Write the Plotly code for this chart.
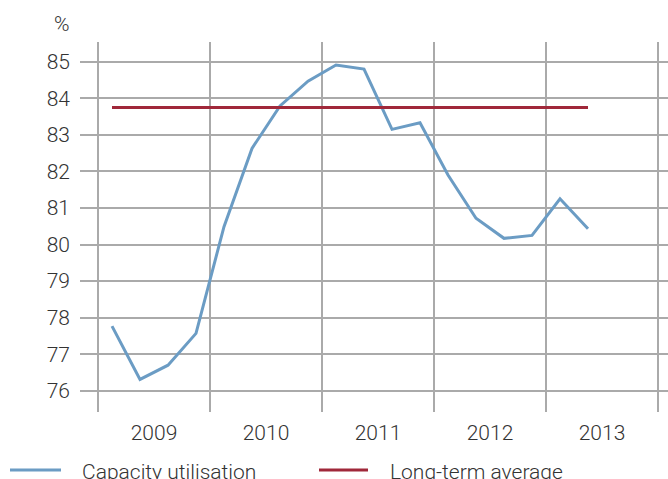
import plotly.graph_objects as go

quarters = ["2009Q1", "2009Q2", "2009Q3", "2009Q4",
            "2010Q1", "2010Q2", "2010Q3", "2010Q4",
            "2011Q1", "2011Q2", "2011Q3", "2011Q4",
            "2012Q1", "2012Q2", "2012Q3", "2012Q4",
            "2013Q1", "2013Q2"]
capacity_utilisation = [77.77, 76.31, 76.70, 77.57,
                        80.49, 82.63, 83.79, 84.47,
                        84.91, 84.80, 83.15, 83.33,
                        81.90, 80.72, 80.17, 80.25,
                        81.25, 80.43]
long_term_average = [83.75] * len(quarters)
years = ["2009", "2010", "2011", "2012", "2013"]
y_ticks = [76, 77, 78, 79, 80, 81, 82, 83, 84, 85]
series_names = ["Capacity utilisation", "Long-term average"]
series_colors = ["#6b9cc4", "#a0283a"]

x = list(range(len(quarters)))
year_centers = [4 * i + 1.5 for i in range(len(years))]
year_bounds = [4 * i - 0.5 for i in range(len(years) + 1)]

FONT = "Roboto"
FS = 21
FW = 300
TXT = "#333333"
GRID = "#aaaaaa"

fig = go.Figure()
for name, vals, col in zip(series_names,
                           [capacity_utilisation, long_term_average],
                           series_colors):
    fig.add_trace(go.Scatter(x=x, y=vals, mode="lines", name=name,
                             line=dict(color=col, width=3),
                             showlegend=False))

# legend drawn as paper-referenced samples + text (plot area: x 80..668, y 42..412)
PW, PH, L, B = 588.0, 370.0, 80.0, 412.0
def px(v):
    return (v - L) / PW
def py(v):
    return (B - v) / PH

legend_items = [(10, 61, 81), (319, 368, 389)]  # sample start, sample end, text start (px)
shapes = []
annotations = []
for (s0, s1, t0), name, col in zip(legend_items, series_names, series_colors):
    shapes.append(dict(type="line", xref="paper", yref="paper",
                       x0=px(s0), x1=px(s1), y0=py(470), y1=py(470),
                       line=dict(color=col, width=3)))
    annotations.append(dict(text=name, xref="paper", yref="paper",
                            x=px(t0), y=py(472), xanchor="left", yanchor="middle",
                            showarrow=False, borderpad=0,
                            font=dict(family=FONT, size=FS, color=TXT, weight=FW)))

annotations.append(dict(text="%", xref="paper", yref="paper",
                        x=px(62), y=py(24.5), xanchor="center", yanchor="middle",
                        showarrow=False,
                        font=dict(family=FONT, size=FS, color=TXT, weight=FW)))

fig.update_layout(
    width=668, height=479,
    margin=dict(l=80, r=0, t=42, b=67, autoexpand=False),
    paper_bgcolor="white", plot_bgcolor="white",
    font=dict(family=FONT, size=FS, color=TXT, weight=FW),
    showlegend=False,
    xaxis=dict(range=[-1.143, 19.857], tickmode="array",
               tickvals=year_centers, ticktext=years,
               showgrid=False, zeroline=False, showline=False,
               ticks="", ticklabelstandoff=6, automargin=False,
               tickfont=dict(family=FONT, size=FS, color=TXT, weight=FW),
               minor=dict(tickmode="array", tickvals=year_bounds,
                          showgrid=True, gridcolor=GRID, gridwidth=1.5,
                          ticks="")),
    yaxis=dict(range=[75.42, 85.54], tickmode="array", tickvals=y_ticks,
               showgrid=True, gridcolor=GRID, gridwidth=1.5,
               zeroline=False, showline=False, ticks="",
               ticklabelstandoff=9, automargin=False,
               tickfont=dict(family=FONT, size=FS, color=TXT, weight=FW)),
    shapes=shapes,
    annotations=annotations,
)

fig.write_html("out.html",
               config={"displayModeBar": False},
               post_script="document.body.style.margin='0';"
                           "document.body.style.overflow='hidden';")
